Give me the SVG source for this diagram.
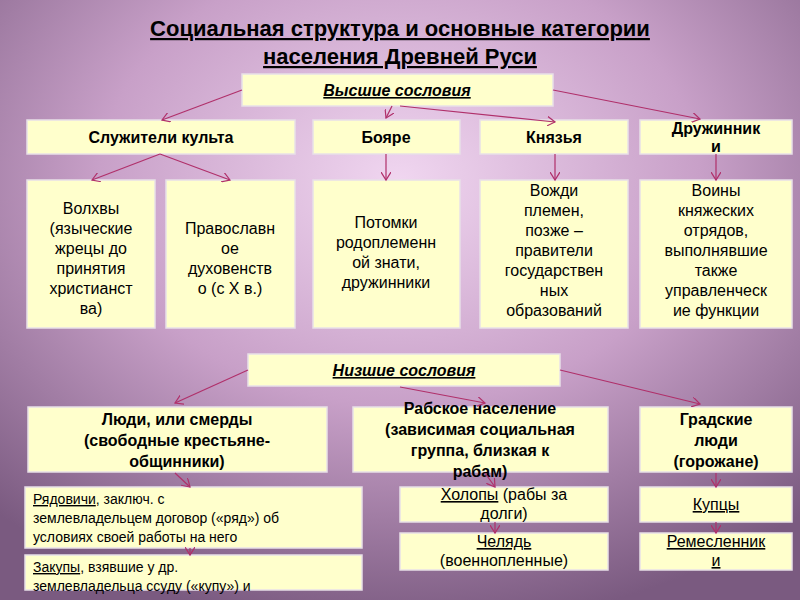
<svg xmlns="http://www.w3.org/2000/svg" width="800" height="600" viewBox="0 0 800 600">
<defs>
<radialGradient id="bg" cx="0.5" cy="0.3" r="0.75">
<stop offset="0" stop-color="#f0d6f0"/>
<stop offset="0.5" stop-color="#c8a0c8"/>
<stop offset="1" stop-color="#7a5a80"/>
</radialGradient>
<marker id="ah" markerWidth="10" markerHeight="10" refX="8" refY="5" orient="auto" markerUnits="userSpaceOnUse">
<path d="M0,0 L8,5 L0,10" fill="none" stroke="#b0306a" stroke-width="1.2"/>
</marker>
<style>
.b{fill:#ffffcc;stroke:#e8e0e8;stroke-width:1.5}
text{font-family:"Liberation Sans",Arial,sans-serif;fill:#000;text-anchor:middle}
.t{font-size:22px;font-weight:bold;text-decoration:underline}
.h{font-size:16px;font-weight:bold;font-style:italic;text-decoration:underline}
.n{font-size:16px;font-weight:bold}
.d{font-size:16px}
.s{font-size:14px;text-anchor:start}
.c line{stroke:#b0306a;stroke-width:1.2;marker-end:url(#ah)}
</style>
</defs>
<rect width="800" height="600" fill="url(#bg)"/>
<text class="t" x="400" y="36">Социальная структура и основные категории</text>
<text class="t" x="400" y="64">населения Древней Руси</text>

<g id="vys"><rect class="b" x="242" y="74" width="311" height="32"/><text class="h" x="397" y="96">Высшие сословия</text></g>
<g id="sluz"><rect class="b" x="27" y="120" width="268" height="34"/><text class="n" x="161" y="143">Служители культа</text></g>
<g id="boyare"><rect class="b" x="313" y="120" width="147" height="34"/><text class="n" x="386" y="143">Бояре</text></g>
<g id="knyazya"><rect class="b" x="480" y="120" width="148" height="34"/><text class="n" x="554" y="143">Князья</text></g>
<g id="druz"><rect class="b" x="640" y="120" width="152" height="34"/><text class="n" x="716" y="134">Дружинник</text><text class="n" x="716" y="152">и</text></g>

<g id="volhvy"><rect class="b" x="27" y="180" width="128" height="148"/><text class="d" x="91" y="214">Волхвы</text><text class="d" x="91" y="234">(языческие</text><text class="d" x="91" y="254">жрецы до</text><text class="d" x="91" y="274">принятия</text><text class="d" x="91" y="294">христианст</text><text class="d" x="91" y="314">ва)</text></g>
<g id="prav"><rect class="b" x="166" y="180" width="129" height="148"/><text class="d" x="230" y="234">Православн</text><text class="d" x="230" y="254">ое</text><text class="d" x="230" y="274">духовенств</text><text class="d" x="230" y="294">о (с X в.)</text></g>
<g id="potomki"><rect class="b" x="313" y="180" width="147" height="148"/><text class="d" x="386" y="228">Потомки</text><text class="d" x="386" y="248">родоплеменн</text><text class="d" x="386" y="268">ой знати,</text><text class="d" x="386" y="288">дружинники</text></g>
<g id="vozhdi"><rect class="b" x="480" y="180" width="148" height="148"/><text class="d" x="554" y="196">Вожди</text><text class="d" x="554" y="216">племен,</text><text class="d" x="554" y="236">позже –</text><text class="d" x="554" y="256">правители</text><text class="d" x="554" y="276">государствен</text><text class="d" x="554" y="296">ных</text><text class="d" x="554" y="316">образований</text></g>
<g id="voiny"><rect class="b" x="640" y="180" width="152" height="148"/><text class="d" x="716" y="196">Воины</text><text class="d" x="716" y="216">княжеских</text><text class="d" x="716" y="236">отрядов,</text><text class="d" x="716" y="256">выполнявшие</text><text class="d" x="716" y="276">также</text><text class="d" x="716" y="296">управленческ</text><text class="d" x="716" y="316">ие функции</text></g>

<g id="nizh"><rect class="b" x="248" y="354" width="312" height="32"/><text class="h" x="404" y="376">Низшие сословия</text></g>
<g id="lyudi"><rect class="b" x="28" y="407" width="299" height="65"/><text class="n" x="177" y="425">Люди, или смерды</text><text class="n" x="177" y="446">(свободные крестьяне-</text><text class="n" x="177" y="467">общинники)</text></g>
<g id="rab"><rect class="b" x="353" y="407" width="255" height="65"/><text class="n" x="480" y="414">Рабское население</text><text class="n" x="480" y="435">(зависимая социальная</text><text class="n" x="480" y="456">группа, близкая к</text><text class="n" x="480" y="477">рабам)</text></g>
<g id="grad"><rect class="b" x="640" y="407" width="152" height="65"/><text class="n" x="716" y="425">Градские</text><text class="n" x="716" y="446">люди</text><text class="n" x="716" y="467">(горожане)</text></g>

<g id="ryad"><rect class="b" x="25" y="487" width="337" height="61"/><text class="s" x="33" y="504"><tspan text-decoration="underline">Рядовичи</tspan>, заключ. с</text><text class="s" x="33" y="523">землевладельцем договор («ряд») об</text><text class="s" x="33" y="542">условиях  своей работы на него</text></g>
<g id="zakup"><rect class="b" x="25" y="555" width="337" height="35"/><text class="s" x="33" y="572"><tspan text-decoration="underline">Закупы</tspan>, взявшие у др.</text><text class="s" x="33" y="591">землевладельца ссуду («купу») и</text></g>
<g id="holop"><rect class="b" x="400" y="487" width="208" height="35"/><text class="d" x="504" y="500"><tspan text-decoration="underline">Холопы</tspan> (рабы за</text><text class="d" x="504" y="519">долги)</text></g>
<g id="chel"><rect class="b" x="400" y="533" width="208" height="37"/><text class="d" x="504" y="547" text-decoration="underline">Челядь</text><text class="d" x="504" y="566">(военнопленные)</text></g>
<g id="kupcy"><rect class="b" x="640" y="487" width="152" height="35"/><text class="d" x="716" y="510" text-decoration="underline">Купцы</text></g>
<g id="remes"><rect class="b" x="640" y="533" width="152" height="37"/><text class="d" x="716" y="547" text-decoration="underline">Ремесленник</text><text class="d" x="716" y="566" text-decoration="underline">и</text></g>

<g class="c" id="connectors">
<line x1="242" y1="90" x2="162" y2="120"/>
<line x1="392" y1="106" x2="386" y2="118"/>
<line x1="400" y1="106" x2="555" y2="122"/>
<line x1="553" y1="90" x2="700" y2="119"/>
<line x1="160" y1="154" x2="92" y2="180"/>
<line x1="160" y1="154" x2="230" y2="180"/>
<line x1="386" y1="154" x2="386" y2="180"/>
<line x1="555" y1="154" x2="555" y2="180"/>
<line x1="716" y1="154" x2="716" y2="180"/>
<line x1="248" y1="370" x2="175" y2="403"/>
<line x1="400" y1="387" x2="485" y2="403"/>
<line x1="560" y1="370" x2="700" y2="404"/>
<line x1="175" y1="473" x2="190" y2="487"/>
<line x1="485" y1="473" x2="495" y2="487"/>
<line x1="495" y1="522" x2="495" y2="533"/>
<line x1="716" y1="473" x2="716" y2="487"/>
<line x1="716" y1="522" x2="716" y2="533"/>
<line x1="190" y1="548" x2="190" y2="555"/>
</g>
</svg>
